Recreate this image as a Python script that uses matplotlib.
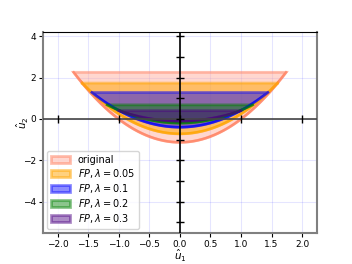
import numpy as np
import matplotlib.pyplot as plt

# sets: y >= a*x^2 + b, capped at y <= top
labels = ["original", r"$FP, \lambda=0.05$", r"$FP, \lambda=0.1$", r"$FP, \lambda=0.2$", r"$FP, \lambda=0.3$"]
curv = [1.12, 0.96, 0.81, 0.62, 0.51]
bottoms = [-1.13, -0.72, -0.40, -0.20, -0.11]
tops = [2.25, 1.73, 1.28, 0.68, 0.40]
faces = ["#ffb0a0", "orange", "blue", "green", "indigo"]
edges = ["#ff8060", "orange", "blue", "green", "indigo"]
alphas = [0.5, 0.5, 0.45, 0.45, 0.45]

xticks = [-2.0, -1.5, -1.0, -0.5, 0.0, 0.5, 1.0, 1.5, 2.0]
yticks = [-4, -2, 0, 2, 4]

fig = plt.figure(figsize=(3.52, 2.64), dpi=100)
ax = fig.add_axes([0.122, 0.118, 0.778, 0.761])

ax.grid(True, color="blue", alpha=0.1, linewidth=0.8)
ax.set_axisbelow(True)

for a, b, t, fc, ec, al, lb in zip(curv, bottoms, tops, faces, edges, alphas, labels):
    xm = np.sqrt((t - b) / a)
    xs = np.linspace(-xm, xm, 200)
    ys = a * xs**2 + b
    px = np.r_[xs, xs[::-1][[0, -1]]]
    py = np.r_[ys, [t, t]]
    ax.fill(px, py, facecolor=fc, alpha=al, edgecolor=ec, linewidth=2, label=lb)
    ax.plot(xs, ys, color=ec, alpha=0.75, linewidth=1.8)

# axes through origin
ax.axhline(0, color="#444444", linewidth=1.2, zorder=3)
ax.axvline(0, color="black", linewidth=1.2, zorder=3)
ax.plot([-2, -1, 0, 1, 2], [0] * 5, linestyle="none", marker="|", color="black", markersize=6, zorder=4)
ax.plot([0] * 10, list(range(-5, 5)), linestyle="none", marker="_", color="black", markersize=6, zorder=4)

ax.set_xlim(-2.24, 2.24)
ax.set_ylim(-5.5, 4.2)
ax.set_xticks(xticks)
ax.set_yticks(yticks)
ax.tick_params(labelsize=6.5, length=3, pad=2)
for s in ["left", "bottom", "right"]:
    ax.spines[s].set_color("gray")
    ax.spines[s].set_linewidth(1.5)

ax.set_xlabel(r"$\hat{u}_1$", fontsize=7.5)
ax.set_ylabel(r"$\hat{u}_2$", fontsize=7.5)
ax.xaxis.set_label_coords(0.5, -0.075)
ax.yaxis.set_label_coords(-0.045, 0.55)
ax.legend(loc="lower left", fontsize=7, handlelength=2, labelspacing=0.2, borderaxespad=0.4)

fig.savefig("out.png", dpi=100)
